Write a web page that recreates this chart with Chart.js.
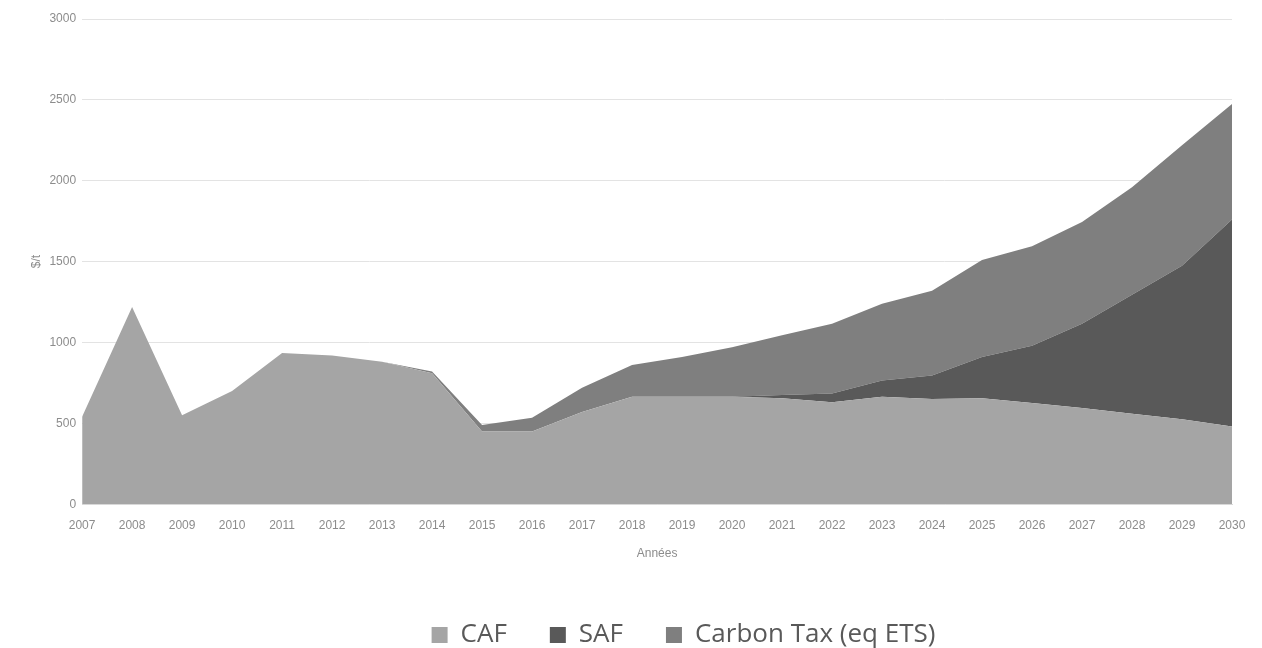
<!DOCTYPE html>
<html>
<head>
<meta charset="utf-8">
<script src="https://cdn.jsdelivr.net/npm/chart.js@4"></script>
<style>
  html, body { margin: 0; padding: 0; background: #fff; }
  #wrap { width: 1262px; height: 648px; }
</style>
</head>
<body>
<div id="wrap"><canvas id="fuelChart"></canvas></div>
<script>
const years = ["2007", "2008", "2009", "2010", "2011", "2012", "2013", "2014", "2015", "2016", "2017", "2018",
               "2019", "2020", "2021", "2022", "2023", "2024", "2025", "2026", "2027", "2028", "2029", "2030"];
const cafValues = [540, 1220, 550, 700, 935, 920, 880, 810, 450, 450, 570, 665,
                   665, 665, 655, 630, 665, 650, 655, 625, 595, 560, 525, 480];
const safValues = [0, 0, 0, 0, 0, 0, 0, 0, 0, 0, 0, 0,
                   0, 0, 20, 55, 100, 145, 255, 355, 520, 735, 950, 1280];
const carbonTaxValues = [0, 0, 0, 0, 0, 0, 0, 10, 40, 85, 150, 195,
                         245, 305, 370, 430, 475, 525, 600, 615, 630, 665, 745, 715];

// the legend sits under the plot centre, a bit right and low
const shiftLegend = {
    id: "shiftLegend",
    afterLayout(chart) {
        const lg = chart.legend;
        lg.left += 55; lg.right += 55;
        lg.top += 10; lg.bottom += 10;
    }
};

document.addEventListener("DOMContentLoaded", () => {
    const tickFont = { family: "Liberation Sans", size: 12 };

    new Chart(document.getElementById("fuelChart"), {
        type: "line",
        data: {
            labels: years,
            datasets: [
                { label: "CAF", data: cafValues, backgroundColor: "#a5a5a5", fill: "origin" },
                { label: "SAF", data: safValues, backgroundColor: "#595959", fill: "-1" },
                { label: "Carbon Tax (eq ETS)", data: carbonTaxValues, backgroundColor: "#7f7f7f", fill: "-1" }
            ]
        },
        options: {
            responsive: true,
            maintainAspectRatio: false,
            animation: false,
            elements: {
                point: { radius: 0 },
                line: { borderWidth: 0, tension: 0 }
            },
            layout: { padding: { top: 19, right: 30, left: 25, bottom: 0 } },
            plugins: {
                tooltip: { enabled: false },
                legend: {
                    position: "bottom",
                    labels: {
                        font: { family: "Open Sans", size: 26 },
                        color: "#595959",
                        boxWidth: 16,
                        boxHeight: 16,
                        padding: 43
                    }
                }
            },
            scales: {
                x: {
                    offset: false,
                    grid: { display: false, drawTicks: true },
                    border: { color: "#d9d9d9" },
                    ticks: { font: tickFont, color: "#8c8c8c", maxRotation: 0, autoSkip: false, padding: 6 },
                    title: {
                        display: true,
                        text: "Années",
                        font: tickFont,
                        color: "#8c8c8c",
                        padding: { top: 8, bottom: 8 }
                    }
                },
                y: {
                    stacked: true,
                    min: 0,
                    max: 3000,
                    ticks: {
                        stepSize: 500,
                        font: tickFont,
                        color: "#8c8c8c",
                        padding: 6,
                        callback: (v) => String(v)
                    },
                    grid: { color: "#e3e3e3", drawTicks: false },
                    border: { display: false },
                    title: {
                        display: true,
                        text: "$/t",
                        font: tickFont,
                        color: "#8c8c8c",
                        padding: { bottom: 0 }
                    }
                }
            }
        },
        plugins: [shiftLegend]
    });
});
</script>
</body>
</html>
